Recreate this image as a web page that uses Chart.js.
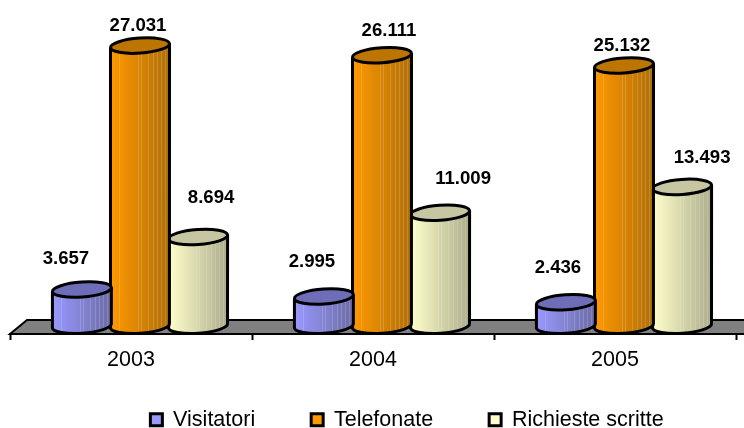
<!DOCTYPE html>
<html>
<head>
<meta charset="utf-8">
<style>html,body{margin:0;padding:0;background:#fff}canvas{display:block}</style>
<script src="https://cdn.jsdelivr.net/npm/chart.js@4"></script>
</head>
<body>
<canvas id="c" width="744" height="428"></canvas>
<script>
const categories = ['2003', '2004', '2005'];
const visitatori = [3657, 2995, 2436];
const telefonate = [27031, 26111, 25132];
const richieste = [8694, 11009, 13493];
const seriesNames = ['Visitatori', 'Telefonate', 'Richieste scritte'];

// styles
const baseColors = ['#9999ff', '#ff9900', '#ffffcc'];
const darkColors = ['#6c6ca6', '#b06f08', '#adad8c'];
const capColors = ['#6d6db8', '#bb7500', '#c6c6a2'];
// thin light streaks on the cylinder bodies, as fractions of the width
const streakStops = [0.14, 0.47, 0.52, 0.63, 0.72, 0.79, 0.86, 0.93];
// label nudges relative to each cylinder's top centre, [series][category]
const labelNudges = [
  [[-16, -31], [-12, -35], [-8, -34]],
  [[-2, -20], [7, -24], [-2, -20]],
  [[13, -39], [23, -34], [20, -29]]
];
const DEPTH_SHIFT = 9, RX = 29.5, RY = 7.5, TILT = -0.07, BASE_LIFT = 2;
const FONT = '"Liberation Sans", Arial, sans-serif';

function fmt(v) { return String(v).replace(/\B(?=(\d{3})+$)/g, '.'); }

const cylinderPlugin = {
  id: 'cylinders',
  beforeLayout(chart) {
    const l = chart.legend;
    if (l && !l._wrapped) {
      const f = l.fit;
      l.fit = function () { f.call(this); this.height = 0; };
      l._wrapped = true;
    }
  },
  afterLayout(chart) {
    const l = chart.legend;
    l.top = 353; l.bottom = 428; l.right = l.right + 68;
  },
  beforeDraw(chart) {
    const { ctx, chartArea: a } = chart;
    ctx.save();
    ctx.beginPath();
    ctx.moveTo(a.left, a.bottom);
    ctx.lineTo(a.left + 17, a.bottom - 14);
    ctx.lineTo(a.right + 24, a.bottom - 14);
    ctx.lineTo(a.right + 8, a.bottom);
    ctx.closePath();
    ctx.fillStyle = '#808080';
    ctx.fill();
    ctx.lineWidth = 2;
    ctx.strokeStyle = '#000';
    ctx.stroke();
    ctx.restore();
  },
  beforeDatasetDraw(chart, args) {
    const { ctx } = chart;
    const si = args.index;
    const meta = chart.getDatasetMeta(si);
    meta.data.forEach((bar) => {
      const cx = bar.x + DEPTH_SHIFT, top = bar.y, base = bar.base - BASE_LIFT;
      const dy = Math.sin(TILT) * RX;
      const g = ctx.createLinearGradient(cx - RX, 0, cx + RX, 0);
      g.addColorStop(0, baseColors[si]);
      g.addColorStop(1, darkColors[si]);
      ctx.save();
      ctx.lineWidth = 3;
      ctx.strokeStyle = '#000';
      ctx.beginPath();
      ctx.moveTo(cx - RX, top - dy);
      ctx.lineTo(cx - RX, base - dy);
      ctx.ellipse(cx, base, RX, RY, TILT, Math.PI, 0, true);
      ctx.lineTo(cx + RX, top + dy);
      ctx.closePath();
      ctx.fillStyle = g;
      ctx.fill();
      ctx.save();
      ctx.strokeStyle = 'rgba(255,255,255,0.16)';
      ctx.lineWidth = 1;
      streakStops.forEach((s) => {
        const sx = Math.round(cx - RX + s * 2 * RX) + 0.5;
        ctx.beginPath();
        ctx.moveTo(sx, top);
        ctx.lineTo(sx, base + RY - 2);
        ctx.stroke();
      });
      ctx.restore();
      ctx.beginPath();
      ctx.moveTo(cx - RX, top - dy);
      ctx.lineTo(cx - RX, base - dy);
      ctx.ellipse(cx, base, RX, RY, TILT, Math.PI, 0, true);
      ctx.lineTo(cx + RX, top + dy);
      ctx.stroke();
      ctx.beginPath();
      ctx.ellipse(cx, top, RX, RY, TILT, 0, Math.PI * 2);
      ctx.fillStyle = capColors[si];
      ctx.fill();
      ctx.stroke();
      ctx.restore();
    });
    return false;
  },
  afterDatasetsDraw(chart) {
    const { ctx } = chart;
    ctx.save();
    ctx.font = 'bold 18.6px ' + FONT;
    ctx.fillStyle = '#000';
    ctx.textAlign = 'center';
    ctx.textBaseline = 'middle';
    chart.data.datasets.forEach((ds, si) => {
      chart.getDatasetMeta(si).data.forEach((bar, i) => {
        const n = labelNudges[si][i];
        ctx.fillText(fmt(ds.data[i]), bar.x + DEPTH_SHIFT + n[0], bar.y + n[1]);
      });
    });
    ctx.restore();
  }
};

const seriesValues = [visitatori, telefonate, richieste];
new Chart(document.getElementById('c'), {
  type: 'bar',
  plugins: [cylinderPlugin],
  data: {
    labels: categories,
    datasets: seriesNames.map((name, i) => ({
      label: name,
      data: seriesValues[i],
      backgroundColor: baseColors[i],
      borderColor: '#000',
      borderWidth: 3,
      categoryPercentage: 0.72,
      barPercentage: 1
    }))
  },
  options: {
    responsive: false,
    animation: false,
    devicePixelRatio: 1,
    layout: { padding: { left: 10, right: 8, top: 0, bottom: 0 } },
    scales: {
      x: {
        afterFit(scale) { scale.height = 94; },
        grid: { drawOnChartArea: false, drawTicks: true, tickLength: 6, tickColor: '#000', tickWidth: 2, offset: true },
        border: { color: '#000', width: 2 },
        ticks: { color: '#000', padding: 7, font: { family: FONT, size: 21.5 } }
      },
      y: { display: false, min: -600, max: 31400 }
    },
    plugins: {
      tooltip: { enabled: false },
      legend: {
        position: 'bottom',
        labels: {
          color: '#000',
          boxWidth: 12,
          boxHeight: 12,
          padding: 56,
          font: { family: FONT, size: 21.5 }
        }
      }
    }
  }
});
</script>
</body>
</html>
